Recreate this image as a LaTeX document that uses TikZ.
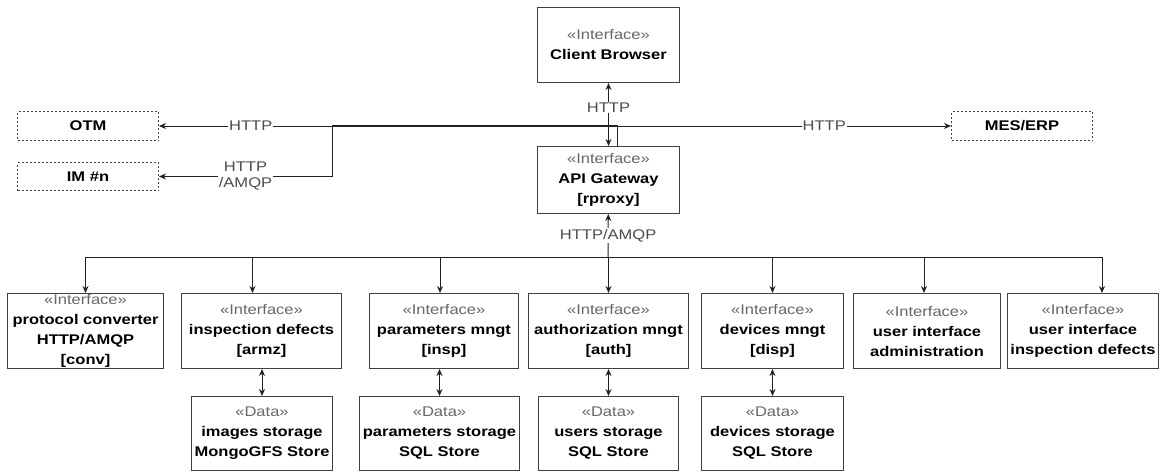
\documentclass[tikz,border=0pt]{standalone}
\usepackage{fontspec}
\setmainfont{Liberation Sans}[FakeStretch=1.18]
\usetikzlibrary{arrows.meta}
\definecolor{stereo}{HTML}{666666}
\definecolor{wire}{HTML}{222222}
\newcommand{\ifc}{{\mdseries\color{stereo}«Interface»}}
\newcommand{\dat}{{\mdseries\color{stereo}«Data»}}
\tikzset{
 comp/.style={draw=black!75, line width=1pt, align=center, anchor=north west, inner sep=0pt,
   font=\fontsize{14}{20}\selectfont\bfseries},
 ext/.style={comp, dash pattern=on 2pt off 2pt},
 lbl/.style={fill=white, inner sep=1pt, text=black!70, align=center,
   font=\fontsize{14}{16}\selectfont}
}
\begin{document}
\begin{tikzpicture}[x=1pt,y=-1pt,line width=1pt,draw=wire,>={Stealth[length=7pt,width=6pt]}]
 \useasboundingbox (0,0) rectangle (1166,471);
 % gateway and clients
 \node[comp,minimum width=142,minimum height=75] (cb) at (537,7) {\ifc\\Client Browser};
 \node[comp,minimum width=142,minimum height=67] (gw) at (537,146) {\ifc\\API Gateway\\{}[rproxy]};
 \node[ext,minimum width=141,minimum height=29] (otm) at (17,111) {OTM};
 \node[ext,minimum width=141,minimum height=28] (im) at (17,162) {IM \#n};
 \node[ext,minimum width=141,minimum height=29] (mes) at (951,111) {MES/ERP};
 % services
 \node[comp,minimum width=156,minimum height=75] (conv) at (7,293) {\ifc\\protocol converter\\HTTP/AMQP\\{}[conv]};
 \node[comp,minimum width=160,minimum height=75] (armz) at (181,293) {\ifc\\inspection defects\\{}[armz]};
 \node[comp,minimum width=149,minimum height=75] (insp) at (369,293) {\ifc\\parameters mngt\\{}[insp]};
 \node[comp,minimum width=160,minimum height=75] (auth) at (528,293) {\ifc\\authorization mngt\\{}[auth]};
 \node[comp,minimum width=142,minimum height=75] (disp) at (701,293) {\ifc\\devices mngt\\{}[disp]};
 \node[comp,minimum width=147,minimum height=75] (uiadm) at (853,293) {\ifc\\user interface\\administration};
 \node[comp,minimum width=151,minimum height=75] (uiins) at (1007,293) {\ifc\\user interface\\inspection defects};
 % storages
 \node[comp,minimum width=141,minimum height=74] (imgs) at (191,396) {\dat\\images storage\\MongoGFS Store};
 \node[comp,minimum width=160,minimum height=74] (pars) at (359,396) {\dat\\parameters storage\\SQL Store};
 \node[comp,minimum width=140,minimum height=74] (usrs) at (538,396) {\dat\\users storage\\SQL Store};
 \node[comp,minimum width=142,minimum height=74] (devs) at (701,396) {\dat\\devices storage\\SQL Store};

 \draw[<->] (cb) -- node[lbl,pos=0.39] {HTTP} (gw);
 \coordinate (tap) at ([xshift=9]gw.north);
 \coordinate (fork) at (332,125);
 \draw[->] (tap) |- node[lbl,pos=0.9] {HTTP} (otm);
 \draw[->] (tap) |- node[lbl,pos=0.81] {HTTP} (mes);
 \draw[->] (tap) |- (fork) |- node[lbl,pos=0.75] {HTTP\\/AMQP} (im);

 \coordinate (bus) at (608,257);
 \draw[->] (bus) -- node[lbl] {HTTP/AMQP} (gw);
 \foreach \n/\dx in {conv/0,armz/-9,insp/-4,auth/0,disp/0,uiadm/-3,uiins/19}
  \draw[->] (bus) -| ([xshift=\dx]\n.north);
 \foreach \a/\b in {armz/imgs,insp/pars,auth/usrs,disp/devs}
  \draw[<->] (\b.north) -- (\b.north |- \a.south);
\end{tikzpicture}
\end{document}
